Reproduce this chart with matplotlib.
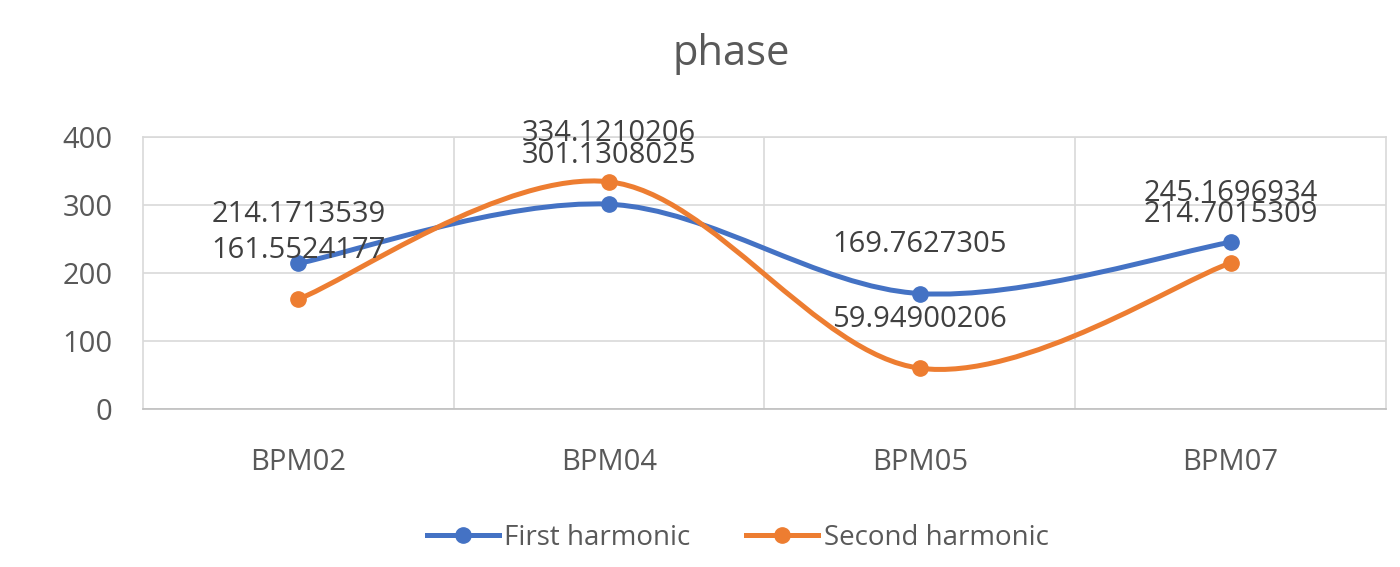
import matplotlib
matplotlib.use("Agg")
import matplotlib.pyplot as plt
from matplotlib.path import Path
from matplotlib.patches import PathPatch
from matplotlib.lines import Line2D
from matplotlib import font_manager

categories = ["BPM02", "BPM04", "BPM05", "BPM07"]
first_harmonic = [214.1713539, 301.1308025, 169.7627305, 245.1696934]
second_harmonic = [161.5524177, 334.1210206, 59.94900206, 214.7015309]
series_names = ["First harmonic", "Second harmonic"]
y_ticks = [0, 100, 200, 300, 400]

BLUE = "#4472C4"
ORANGE = "#ED7D31"
TEXT = "#595959"
GRID = "#D9D9D9"

names = {f.name for f in font_manager.fontManager.ttflist}
family = "Liberation Sans Narrow" if "Liberation Sans Narrow" in names else "Open Sans"
plt.rcParams["font.family"] = [family, "DejaVu Sans"]


def smooth_path(xs, ys):
    """Cubic Bezier through the points, Catmull-Rom style control points."""
    pts = list(zip(xs, ys))
    n = len(pts)
    verts = [pts[0]]
    codes = [Path.MOVETO]
    for i in range(n - 1):
        p0 = pts[i - 1] if i > 0 else pts[i]
        p1 = pts[i]
        p2 = pts[i + 1]
        p3 = pts[i + 2] if i + 2 < n else pts[i + 1]
        c1 = (p1[0] + (p2[0] - p0[0]) / 6, p1[1] + (p2[1] - p0[1]) / 6)
        c2 = (p2[0] - (p3[0] - p1[0]) / 6, p2[1] - (p3[1] - p1[1]) / 6)
        verts += [c1, c2, p2]
        codes += [Path.CURVE4] * 3
    return Path(verts, codes)


fig = plt.figure(figsize=(14, 5.67), dpi=100)
ax = fig.add_axes([0.1021, 0.2787, 0.8879, 0.4797])

x = list(range(len(categories)))
for vals, color in [(first_harmonic, BLUE), (second_harmonic, ORANGE)]:
    patch = PathPatch(smooth_path(x, vals), facecolor="none", edgecolor=color,
                      lw=3.6, capstyle="round", joinstyle="round", zorder=3)
    ax.add_patch(patch)
    ax.plot(x, vals, "o", color=color, markersize=11, zorder=4)
    for xi, v in zip(x, vals):
        ax.annotate(f"{v:.10g}", (xi, v), xytext=(0, 35), textcoords="offset points",
                    ha="center", va="center", fontsize=21, color="#404040", zorder=5)

ax.set_xlim(-0.5, len(categories) - 0.5)
ax.set_ylim(0, 400)
ax.set_yticks(y_ticks)
ax.set_xticks([i + 0.5 for i in range(len(categories) - 1)], minor=False)
ax.set_xticklabels([])
ax.set_xticks(x, minor=True)
ax.set_xticklabels(categories, minor=True)
ax.grid(True, which="major", color=GRID, lw=1.2)
ax.set_axisbelow(True)
for s in ax.spines.values():
    s.set_color(GRID)
    s.set_linewidth(1.2)
ax.spines["bottom"].set_color("#BFBFBF")
ax.tick_params(axis="both", which="both", length=0, colors=TEXT, labelsize=21)
ax.tick_params(axis="y", pad=22)
ax.tick_params(axis="x", which="minor", pad=28)

fig.text(0.522, 0.905, "phase", ha="center", va="center", fontsize=30, color=TEXT)

handles = [Line2D([], [], color=c, lw=3.6, marker="o", markersize=11) for c in (BLUE, ORANGE)]
fig.legend(handles, series_names, loc="center", bbox_to_anchor=(0.527, 0.051), ncol=2,
           frameon=False, fontsize=20, labelcolor=TEXT, handlelength=2.6,
           handletextpad=0.2, columnspacing=2.0)

fig.savefig("out.png", dpi=100, facecolor="white")
